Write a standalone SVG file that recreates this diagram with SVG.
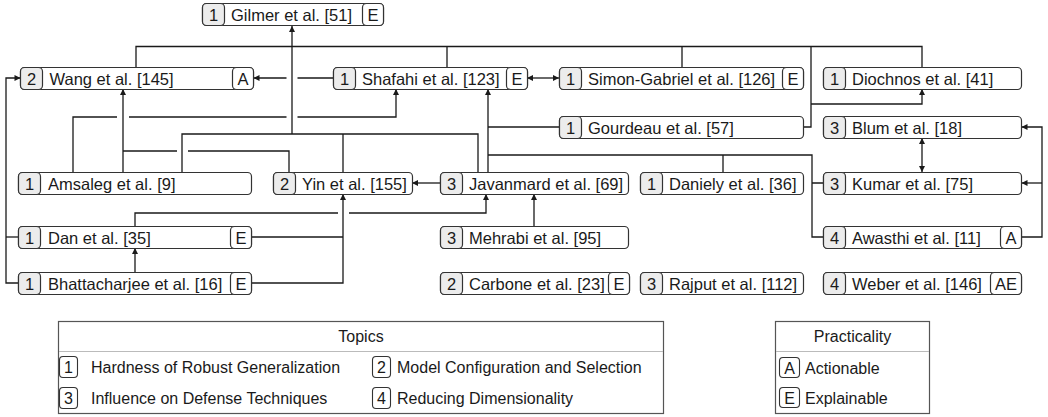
<svg xmlns="http://www.w3.org/2000/svg" width="1048" height="417" viewBox="0 0 1048 417">
<style>
text{font-family:"Liberation Sans",Arial,sans-serif;fill:#1a1a1a}
.box{fill:#fff;stroke:#333;stroke-width:1.2}
.num{fill:#ececec;stroke:#333;stroke-width:1.2}
.tag{fill:#fff;stroke:#333;stroke-width:1.2}
.lbl{font-size:16.5px}
.c{font-size:16.5px;text-anchor:middle}
.conn path{fill:none;stroke:#1a1a1a;stroke-width:1.3}
.leg{fill:#fff;stroke:#555;stroke-width:1.2}
.hdr{stroke:#bbb;stroke-width:1.2}
.lt{font-size:16px}
.lc{font-size:16px;text-anchor:middle}
.lbox{fill:#fff;stroke:#333;stroke-width:1.1}
</style>
<defs>
<marker id="ah" viewBox="0 0 10 10" refX="10" refY="5" markerWidth="7" markerHeight="6" orient="auto-start-reverse" markerUnits="userSpaceOnUse"><path d="M0,0 L10,5 L0,10 z" fill="#1a1a1a"/></marker>
</defs>

<g class="conn" id="connectors">
<path d="M136,67 V46.5 H922 V67 M447,46.5 V67 M682,46.5 V67 M811,46.5 V127 H803.5"/>
<path d="M811,104 H922 V89" marker-end="url(#ah)"/>
<path d="M292,134 V26" marker-end="url(#ah)"/>
<path d="M182,172 V134 H478 V172 M343,134 V172"/>
<path d="M333,78 H297.5 M286.5,78 H253.5" marker-end="url(#ah)"/>
<path d="M527,78 H559" marker-start="url(#ah)" marker-end="url(#ah)"/>
<path d="M73,172 V117 H117 M129,117 H286.5 M297.5,117 H396 V89" marker-end="url(#ah)"/>
<path d="M123,172 V89" marker-end="url(#ah)"/>
<path d="M289,172 V151 H188 M177,151 H123"/>
<path d="M488,172 V89" marker-end="url(#ah)"/>
<path d="M559,127 H488"/>
<path d="M488,155 H812 V237 H823 M723,155 V172 M812,183 H823"/>
<path d="M922,138 V172" marker-start="url(#ah)" marker-end="url(#ah)"/>
<path d="M1022,237 H1042 V127 H1021.5" marker-end="url(#ah)"/>
<path d="M1042,183 H1021.5" marker-end="url(#ah)"/>
<path d="M440,183 H412" marker-end="url(#ah)"/>
<path d="M534,226 V194" marker-end="url(#ah)"/>
<path d="M135,226 V213 H338 M349,213 H486 V194" marker-end="url(#ah)"/>
<path d="M251.5,237 H343 M251.5,283 H343 V194" marker-end="url(#ah)"/>
<path d="M135,272 V248" marker-end="url(#ah)"/>
<path d="M18.5,283 H6 V78 H20.5" marker-end="url(#ah)"/>
<path d="M6,237 H18.5"/>
</g>

<g id="n-gilmer"><rect class="box" x="202.5" y="3.5" width="181" height="22" rx="4"/><rect class="num" x="202.5" y="3.5" width="22" height="22" rx="4"/><text class="c" x="213.5" y="20.5">1</text><text class="lbl" x="231" y="20.5">Gilmer et al. [51]</text><rect class="tag" x="362.5" y="3.5" width="21" height="22" rx="4"/><text class="c" x="373" y="20.5">E</text></g>

<g id="n-wang"><rect class="box" x="20.5" y="67.5" width="233" height="22" rx="4"/><rect class="num" x="20.5" y="67.5" width="22" height="22" rx="4"/><text class="c" x="31.5" y="84.5">2</text><text class="lbl" x="49.5" y="84.5">Wang et al. [145]</text><rect class="tag" x="232.5" y="67.5" width="21" height="22" rx="4"/><text class="c" x="243" y="84.5">A</text></g>

<g id="n-shafahi"><rect class="box" x="333.5" y="67.5" width="194" height="22" rx="4"/><rect class="num" x="333.5" y="67.5" width="22" height="22" rx="4"/><text class="c" x="344.5" y="84.5">1</text><text class="lbl" x="362" y="84.5">Shafahi et al. [123]</text><rect class="tag" x="506.5" y="67.5" width="21" height="22" rx="4"/><text class="c" x="517" y="84.5">E</text></g>

<g id="n-simon"><rect class="box" x="559.5" y="67.5" width="244" height="22" rx="4"/><rect class="num" x="559.5" y="67.5" width="22" height="22" rx="4"/><text class="c" x="570.5" y="84.5">1</text><text class="lbl" x="588" y="84.5">Simon-Gabriel et al. [126]</text><rect class="tag" x="782.5" y="67.5" width="21" height="22" rx="4"/><text class="c" x="793" y="84.5">E</text></g>

<g id="n-diochnos"><rect class="box" x="823.5" y="67.5" width="198" height="22" rx="4"/><rect class="num" x="823.5" y="67.5" width="22" height="22" rx="4"/><text class="c" x="834.5" y="84.5">1</text><text class="lbl" x="852" y="84.5">Diochnos et al. [41]</text></g>

<g id="n-gourdeau"><rect class="box" x="559.5" y="116.5" width="244" height="22" rx="4"/><rect class="num" x="559.5" y="116.5" width="22" height="22" rx="4"/><text class="c" x="570.5" y="133.5">1</text><text class="lbl" x="588" y="133.5">Gourdeau et al. [57]</text></g>

<g id="n-blum"><rect class="box" x="823.5" y="116.5" width="198" height="22" rx="4"/><rect class="num" x="823.5" y="116.5" width="22" height="22" rx="4"/><text class="c" x="834.5" y="133.5">3</text><text class="lbl" x="852" y="133.5">Blum et al. [18]</text></g>

<g id="n-amsaleg"><rect class="box" x="18.5" y="172.5" width="233" height="22" rx="4"/><rect class="num" x="18.5" y="172.5" width="22" height="22" rx="4"/><text class="c" x="29.5" y="189.5">1</text><text class="lbl" x="48" y="189.5">Amsaleg et al. [9]</text></g>

<g id="n-yin"><rect class="box" x="273.5" y="172.5" width="139" height="22" rx="4"/><rect class="num" x="273.5" y="172.5" width="22" height="22" rx="4"/><text class="c" x="284.5" y="189.5">2</text><text class="lbl" x="302" y="189.5">Yin et al. [155]</text></g>

<g id="n-javanmard"><rect class="box" x="440.5" y="172.5" width="188" height="22" rx="4"/><rect class="num" x="440.5" y="172.5" width="22" height="22" rx="4"/><text class="c" x="451.5" y="189.5">3</text><text class="lbl" x="469" y="189.5">Javanmard et al. [69]</text></g>

<g id="n-daniely"><rect class="box" x="640.5" y="172.5" width="163" height="22" rx="4"/><rect class="num" x="640.5" y="172.5" width="22" height="22" rx="4"/><text class="c" x="651.5" y="189.5">1</text><text class="lbl" x="669" y="189.5">Daniely et al. [36]</text></g>

<g id="n-kumar"><rect class="box" x="823.5" y="172.5" width="198" height="22" rx="4"/><rect class="num" x="823.5" y="172.5" width="22" height="22" rx="4"/><text class="c" x="834.5" y="189.5">3</text><text class="lbl" x="852" y="189.5">Kumar et al. [75]</text></g>

<g id="n-dan"><rect class="box" x="18.5" y="226.5" width="233" height="22" rx="4"/><rect class="num" x="18.5" y="226.5" width="22" height="22" rx="4"/><text class="c" x="29.5" y="243.5">1</text><text class="lbl" x="48" y="243.5">Dan et al. [35]</text><rect class="tag" x="230.5" y="226.5" width="21" height="22" rx="4"/><text class="c" x="241" y="243.5">E</text></g>

<g id="n-mehrabi"><rect class="box" x="440.5" y="226.5" width="188" height="22" rx="4"/><rect class="num" x="440.5" y="226.5" width="22" height="22" rx="4"/><text class="c" x="451.5" y="243.5">3</text><text class="lbl" x="469" y="243.5">Mehrabi et al. [95]</text></g>

<g id="n-awasthi"><rect class="box" x="823.5" y="226.5" width="198" height="22" rx="4"/><rect class="num" x="823.5" y="226.5" width="22" height="22" rx="4"/><text class="c" x="834.5" y="243.5">4</text><text class="lbl" x="852" y="243.5">Awasthi et al. [11]</text><rect class="tag" x="1000.5" y="226.5" width="21" height="22" rx="4"/><text class="c" x="1011" y="243.5">A</text></g>

<g id="n-bhattacharjee"><rect class="box" x="18.5" y="272.5" width="233" height="22" rx="4"/><rect class="num" x="18.5" y="272.5" width="22" height="22" rx="4"/><text class="c" x="29.5" y="289.5">1</text><text class="lbl" x="48" y="289.5">Bhattacharjee et al. [16]</text><rect class="tag" x="230.5" y="272.5" width="21" height="22" rx="4"/><text class="c" x="241" y="289.5">E</text></g>

<g id="n-carbone"><rect class="box" x="440.5" y="272.5" width="189" height="22" rx="4"/><rect class="num" x="440.5" y="272.5" width="22" height="22" rx="4"/><text class="c" x="451.5" y="289.5">2</text><text class="lbl" x="469" y="289.5">Carbone et al. [23]</text><rect class="tag" x="608.5" y="272.5" width="21" height="22" rx="4"/><text class="c" x="619" y="289.5">E</text></g>

<g id="n-rajput"><rect class="box" x="640.5" y="272.5" width="163" height="22" rx="4"/><rect class="num" x="640.5" y="272.5" width="22" height="22" rx="4"/><text class="c" x="651.5" y="289.5">3</text><text class="lbl" x="669" y="289.5">Rajput et al. [112]</text></g>

<g id="n-weber"><rect class="box" x="823.5" y="272.5" width="198" height="22" rx="4"/><rect class="num" x="823.5" y="272.5" width="22" height="22" rx="4"/><text class="c" x="834.5" y="289.5">4</text><text class="lbl" x="852" y="289.5">Weber et al. [146]</text><rect class="tag" x="990.5" y="272.5" width="31" height="22" rx="4"/><text class="c" x="1006" y="289.5">AE</text></g>

<g id="legend-topics">
<rect class="leg" x="58.5" y="321.5" width="605" height="92"/>
<line class="hdr" x1="59" y1="351.5" x2="663" y2="351.5"/>
<text class="lc" x="361" y="342">Topics</text>
<rect class="lbox" x="59.5" y="356.5" width="18" height="21" rx="3.5"/><text class="lc" x="68.5" y="373">1</text><text class="lt" x="91" y="373">Hardness of Robust Generalization</text>
<rect class="lbox" x="372.5" y="356.5" width="18" height="21" rx="3.5"/><text class="lc" x="381.5" y="373">2</text><text class="lt" x="397" y="373">Model Configuration and Selection</text>
<rect class="lbox" x="59.5" y="387.5" width="18" height="21" rx="3.5"/><text class="lc" x="68.5" y="404">3</text><text class="lt" x="91" y="404">Influence on Defense Techniques</text>
<rect class="lbox" x="372.5" y="387.5" width="18" height="21" rx="3.5"/><text class="lc" x="381.5" y="404">4</text><text class="lt" x="397" y="404">Reducing Dimensionality</text>
</g>

<g id="legend-practicality">
<rect class="leg" x="775.5" y="321.5" width="154" height="92"/>
<line class="hdr" x1="776" y1="351.5" x2="929" y2="351.5"/>
<text class="lc" x="852.5" y="342">Practicality</text>
<rect class="lbox" x="779.5" y="357.5" width="20" height="20" rx="3.5"/><text class="lc" x="789.5" y="373.5">A</text><text class="lt" x="805" y="373.5">Actionable</text>
<rect class="lbox" x="779.5" y="387.5" width="20" height="20" rx="3.5"/><text class="lc" x="789.5" y="403.5">E</text><text class="lt" x="805" y="403.5">Explainable</text>
</g>
</svg>
